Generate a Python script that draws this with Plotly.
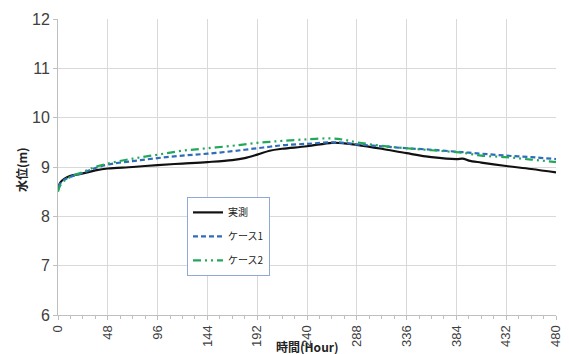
import plotly.graph_objects as go

hours = [0, 2, 6, 12, 24, 36, 48, 72, 96, 120, 144, 168, 180, 192, 204, 216,
         240, 264, 276, 288, 312, 336, 360, 384, 390, 396, 408, 432, 456, 480]
measured = [8.55, 8.68, 8.76, 8.82, 8.87, 8.93, 8.97, 9.00, 9.04, 9.07, 9.10, 9.14,
            9.18, 9.25, 9.33, 9.37, 9.42, 9.49, 9.48, 9.45, 9.37, 9.28, 9.20, 9.16,
            9.17, 9.13, 9.09, 9.02, 8.96, 8.89]
case1 = [8.60, 8.66, 8.74, 8.80, 8.88, 8.98, 9.05, 9.12, 9.18, 9.23, 9.27, 9.32,
         9.35, 9.38, 9.41, 9.44, 9.47, 9.50, 9.49, 9.46, 9.42, 9.38, 9.35, 9.31,
         9.30, 9.29, 9.27, 9.23, 9.20, 9.16]
case2 = [8.50, 8.62, 8.72, 8.80, 8.90, 9.00, 9.07, 9.17, 9.25, 9.33, 9.38, 9.43,
         9.46, 9.49, 9.51, 9.53, 9.56, 9.58, 9.55, 9.50, 9.43, 9.38, 9.34, 9.30,
         9.29, 9.27, 9.23, 9.20, 9.15, 9.10]
x_ticks = list(range(0, 481, 48))
y_ticks = [6, 7, 8, 9, 10, 11, 12]
names = ["実測", "ケース1", "ケース2"]

cjk = "Noto Sans CJK JP"
narrow = "Liberation Sans Narrow, Arial Narrow, Liberation Sans, sans-serif"

fig = go.Figure()
fig.add_trace(go.Scatter(x=hours, y=measured, name=names[0], mode="lines",
                         line=dict(color="#111111", width=2.2, shape="spline"),
                         legendgroup="a"))
fig.add_trace(go.Scatter(x=hours, y=case1, name=names[1], mode="lines",
                         line=dict(color="#2E6DB8", width=2.2, dash="5px,3px", shape="spline"),
                         legendgroup="b"))
fig.add_trace(go.Scatter(x=hours, y=case2, name=names[2], mode="lines",
                         line=dict(color="#22A85A", width=2.2, dash="8px,4px,2px,4px,2px,4px", shape="spline"),
                         legendgroup="c"))

# page body has an 8px margin, so the figure is drawn 8px in from the top-left
fig.update_layout(
    width=561, height=346,
    margin=dict(l=50, r=13, t=11, b=39),
    paper_bgcolor="white", plot_bgcolor="white",
    showlegend=True,
    legend=dict(x=0.259, y=0.399, xanchor="left", yanchor="top",
                bgcolor="white", bordercolor="#8EA9D6", borderwidth=1,
                font=dict(family=cjk, size=10, color="#222222"),
                tracegroupgap=5, traceorder="grouped"),
    xaxis=dict(range=[0, 480], tickvals=x_ticks, ticktext=[str(v) for v in x_ticks],
               tickangle=-90, showgrid=True, gridcolor="#D9D9D9", gridwidth=1,
               showline=True, linecolor="#BFBFBF", linewidth=1,
               ticks="outside", ticklen=4, tickcolor="#BFBFBF",
               minor=dict(dtick=12, ticks="outside", ticklen=3, tickcolor="#BFBFBF", showgrid=False),
               tickfont=dict(family=narrow, size=13, color="#404040"),
               zeroline=False, automargin=False),
    yaxis=dict(range=[6, 12], tickvals=y_ticks, showgrid=True, gridcolor="#D9D9D9",
               gridwidth=1, showline=True, linecolor="#BFBFBF", linewidth=1,
               ticks="outside", ticklen=4, tickcolor="#BFBFBF",
               tickfont=dict(family=narrow, size=16, color="#404040"),
               zeroline=False, automargin=False),
    annotations=[
        dict(text="<b>水位(m)</b>", xref="paper", yref="paper", x=-0.072, y=0.49,
             textangle=-90, showarrow=False, xanchor="center", yanchor="middle",
             font=dict(family=cjk, size=12, color="#222222")),
        dict(text="<b>時間(Hour)</b>", xref="paper", yref="paper", x=0.5, y=-0.108,
             showarrow=False, xanchor="center", yanchor="middle",
             font=dict(family=cjk, size=12, color="#222222")),
    ],
)

fig.write_html("out.html")
